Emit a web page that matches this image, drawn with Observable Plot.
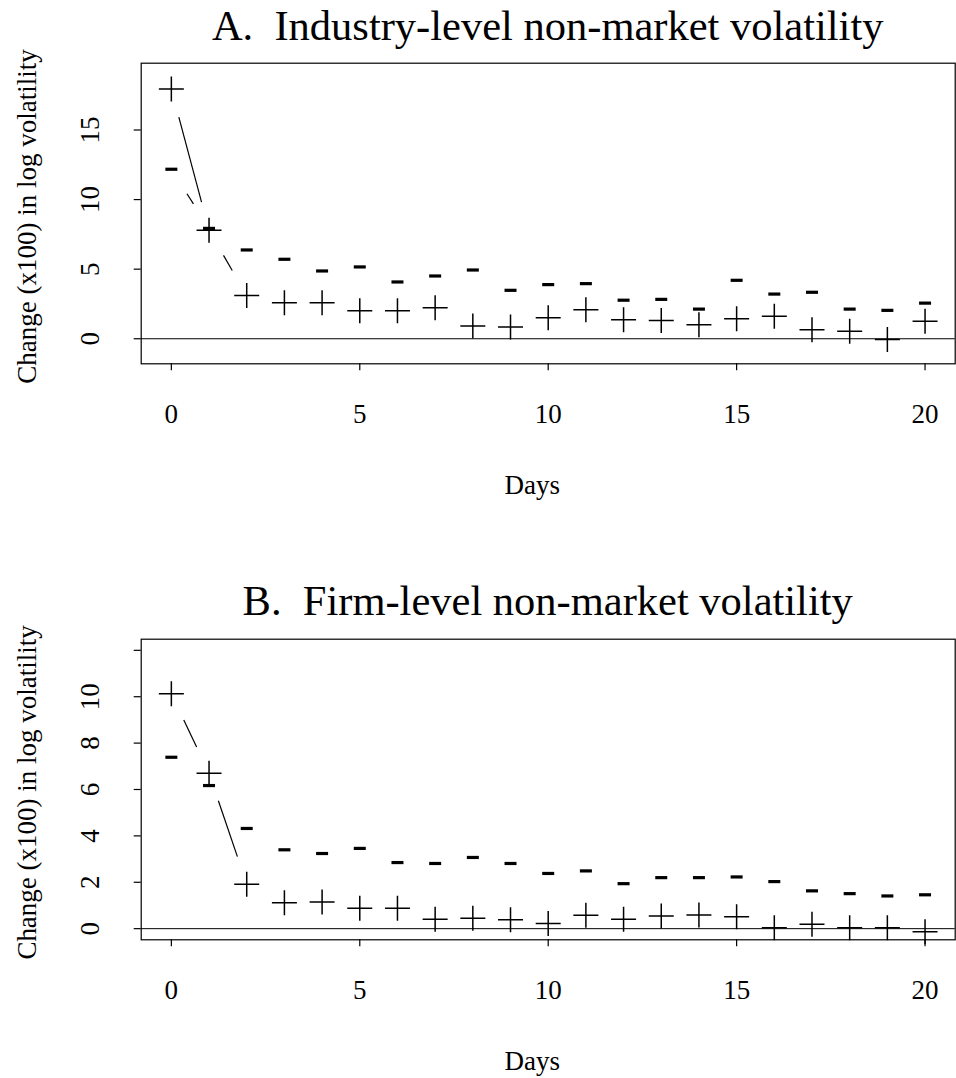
<!DOCTYPE html>
<html><head><meta charset="utf-8">
<script src="https://cdn.jsdelivr.net/npm/d3@7"></script>
<script src="https://cdn.jsdelivr.net/npm/@observablehq/plot@0.6"></script>
<style>
body{margin:0;background:#fff;}
#wrap{position:relative;width:956px;height:1078px;font-family:"Liberation Serif","Times New Roman",serif;background:#fff;}
.title{position:absolute;left:140.7px;width:814px;text-align:center;font-size:42.5px;line-height:42.5px;white-space:pre;color:#000;}
.panel{position:absolute;left:0;}
</style></head><body>
<div id="wrap">
<div class="title" style="top:4.5px">A.  Industry-level non-market volatility</div>
<div class="panel" id="pA" style="top:50px"></div>
<div class="title" style="top:580.1px">B.  Firm-level non-market volatility</div>
<div class="panel" id="pB" style="top:625.6px"></div>
</div>
<script>
// ---- data ----
const days = [0,1,2,3,4,5,6,7,8,9,10,11,12,13,14,15,16,17,18,19,20];
const industryPlus  = [17.94, 7.80, 3.10, 2.59, 2.59, 2.02, 2.02, 2.23, 0.91, 0.84, 1.51, 2.09, 1.37, 1.32, 1.01, 1.44, 1.61, 0.65, 0.53, -0.05, 1.25];
const industryMinus = [12.18, 7.93, 6.38, 5.71, 4.87, 5.16, 4.08, 4.51, 4.94, 3.48, 3.89, 3.96, 2.77, 2.83, 2.13, 4.20, 3.21, 3.34, 2.13, 2.04, 2.56];
const firmPlus  = [10.13, 6.70, 1.92, 1.12, 1.15, 0.88, 0.88, 0.41, 0.45, 0.38, 0.22, 0.58, 0.41, 0.55, 0.59, 0.51, 0.04, 0.19, 0.04, 0.04, -0.13];
const firmMinus = [7.39, 6.17, 4.32, 3.40, 3.24, 3.46, 2.85, 2.81, 3.07, 2.81, 2.38, 2.49, 1.94, 2.20, 2.20, 2.23, 2.03, 1.63, 1.51, 1.41, 1.46];
const xTicks = [0,5,10,15,20];
const industryYTicks = [0,5,10,15];
const industryYLabels = [0,5,10,15];
const firmYTicks = [0,2,4,6,8,10,12];
const firmYLabels = [0,2,4,6,8,10];
const xLabel = "Days";
const yLabel = "Change (x100) in log volatility";

// ---- symbols ----
const plusSymbol = {draw(ctx, size){const r=Math.sqrt(size/Math.PI); ctx.moveTo(-r,0); ctx.lineTo(r,0); ctx.moveTo(0,-r); ctx.lineTo(0,r);}};
const dashSymbol = {draw(ctx, size){const r=Math.sqrt(size/Math.PI); ctx.moveTo(-r,0); ctx.lineTo(r,0);}};

function gapSegments(xs, ys, sx, sy, gap){
  const segs = [];
  for (let i = 0; i < xs.length - 1; i++) {
    const x1 = sx.apply(xs[i]), y1 = sy.apply(ys[i]);
    const x2 = sx.apply(xs[i+1]), y2 = sy.apply(ys[i+1]);
    const dx = x2 - x1, dy = y2 - y1, L = Math.hypot(dx, dy);
    if (L <= 2*gap) continue;
    const ux = dx/L, uy = dy/L;
    segs.push({x1: sx.invert(x1+ux*gap), y1: sy.invert(y1+uy*gap), x2: sx.invert(x2-ux*gap), y2: sy.invert(y2-uy*gap)});
  }
  return segs;
}

function panel({plus, minus, yDomain, yTicks, yLabels, height, marginBottom}){
  const base = {
    width: 956, height, marginLeft: 140.7, marginRight: 1.3, marginTop: 12.7, marginBottom,
    x: {domain: [-0.8, 20.8]},
    y: {domain: yDomain},
    style: {fontFamily: '"Liberation Serif","Times New Roman",serif', fontSize: "27px", background: "white", color: "black", overflow: "visible"}
  };
  const probe = Plot.plot({...base, marks: [Plot.frame()]});
  const sx = probe.scale("x"), sy = probe.scale("y");
  const segs = [...gapSegments(days, plus, sx, sy, 29), ...gapSegments(days, minus, sx, sy, 29)];
  const pts = days.map((d,i) => ({day: d, plus: plus[i], minus: minus[i]}));
  return Plot.plot({...base, marks: [
    Plot.frame({stroke: "black", strokeWidth: 1.2}),
    Plot.ruleY([0], {stroke: "black", strokeWidth: 1}),
    Plot.axisX(xTicks, {tickSize: 7, tickFormat: () => "", label: null, strokeWidth: 1.2}),
    Plot.axisY(yTicks, {tickSize: 7, tickFormat: () => "", label: null, strokeWidth: 1.2}),
    Plot.text(xTicks, {x: d => d, frameAnchor: "bottom", dy: 51, text: d => String(d), lineAnchor: "middle", fontSize: 27}),
    Plot.text(yLabels, {y: d => d, frameAnchor: "left", dx: -50.4, rotate: -90, text: d => String(d), lineAnchor: "middle", textAnchor: "middle", fontSize: 27}),
    Plot.text([xLabel], {frameAnchor: "bottom", dy: 121.7, dx: -16, text: d => d, lineAnchor: "middle", fontSize: 27}),
    Plot.text([yLabel], {frameAnchor: "left", dx: -113.7, dy: 3, rotate: -90, text: d => d, lineAnchor: "middle", textAnchor: "middle", fontSize: 27}),
    Plot.link(segs, {x1: "x1", y1: "y1", x2: "x2", y2: "y2", stroke: "black", strokeWidth: 1.2}),
    Plot.dot(pts, {x: "day", y: "minus", symbol: dashSymbol, r: 6, fill: "none", stroke: "black", strokeWidth: 3.2}),
    Plot.dot(pts, {x: "day", y: "plus", symbol: plusSymbol, r: 12.5, fill: "none", stroke: "black", strokeWidth: 1.5})
  ]});
}

document.getElementById("pA").append(panel({plus: industryPlus, minus: industryMinus, yDomain: [-1.8, 19.8], yTicks: industryYTicks, yLabels: industryYLabels, height: 480, marginBottom: 166.7}));
document.getElementById("pB").append(panel({plus: firmPlus, minus: firmMinus, yDomain: [-0.48, 12.48], yTicks: firmYTicks, yLabels: firmYLabels, height: 452.4, marginBottom: 139.1}));
</script>
</body></html>
